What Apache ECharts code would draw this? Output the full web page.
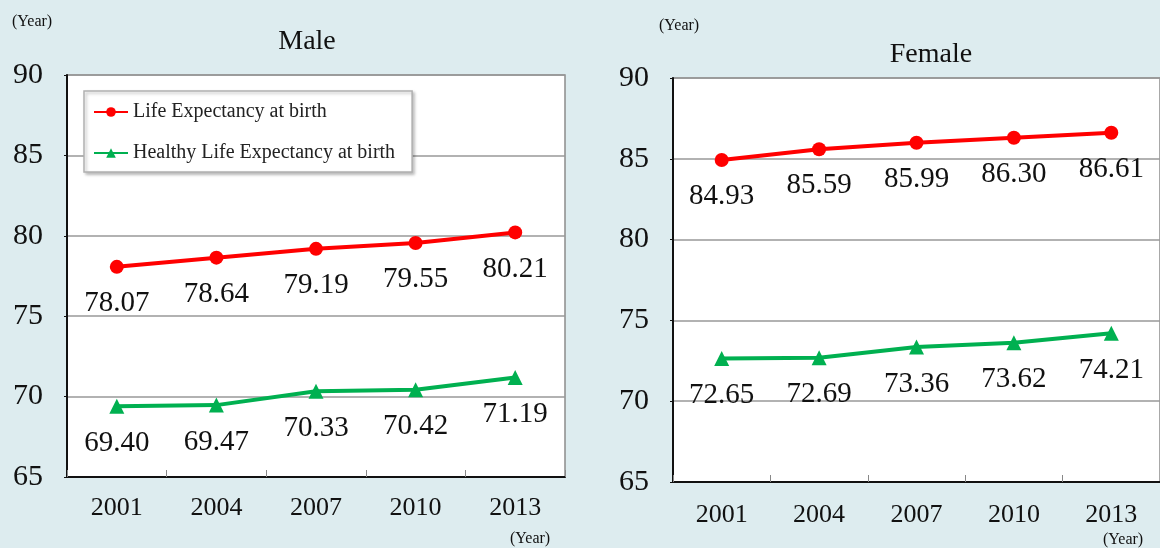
<!DOCTYPE html>
<html>
<head>
<meta charset="utf-8">
<script src="https://cdn.jsdelivr.net/npm/echarts@6/dist/echarts.min.js"></script>
<style>
html,body{margin:0;padding:0;background:#DDECEF;}
#chart{width:1160px;height:548px;}
</style>
</head>
<body>
<div id="chart"></div>
<script>
var years = ['2001', '2004', '2007', '2010', '2013'];
var seriesNames = ['Life Expectancy at birth', 'Healthy Life Expectancy at birth'];
var maleLife = [78.07, 78.64, 79.19, 79.55, 80.21];
var maleHealthy = [69.40, 69.47, 70.33, 70.42, 71.19];
var femaleLife = [84.93, 85.59, 85.99, 86.30, 86.61];
var femaleHealthy = [72.65, 72.69, 73.36, 73.62, 74.21];
var panelTitles = ['Male', 'Female'];
var unitLabel = '(Year)';

var FONT = '"Liberation Serif", "Times New Roman", serif';
var RED = '#FF0000', GREEN = '#00B050';

function yAxis(idx) {
  return {
    type: 'value', gridIndex: idx, min: 65, max: 90, interval: 5,
    axisLine: { show: true, lineStyle: { color: '#111', width: 2 } },
    axisTick: { show: true, inside: false, length: 3, lineStyle: { color: '#111' } },
    axisLabel: { color: '#111', fontFamily: FONT, fontSize: 30, margin: 24 },
    splitLine: { show: true, lineStyle: { color: '#999', width: 1.5 } }
  };
}
function xAxis(idx, margin) {
  return {
    type: 'category', gridIndex: idx, data: years, boundaryGap: true,
    axisLine: { show: true, lineStyle: { color: '#111', width: 2 } },
    axisTick: { show: true, inside: true, length: 7, alignWithLabel: false, lineStyle: { color: '#888' } },
    axisLabel: { color: '#111', fontFamily: FONT, fontSize: 26, margin: margin },
    splitLine: { show: false }
  };
}
function lineSeries(name, data, idx, color, symbol, size) {
  return {
    name: name, type: 'line', xAxisIndex: idx, yAxisIndex: idx, data: data,
    symbol: symbol, symbolSize: size, showSymbol: true,
    lineStyle: { color: color, width: 4 },
    itemStyle: { color: color },
    label: {
      show: true, position: 'bottom', distance: 15,
      color: '#111', fontFamily: FONT, fontSize: 29,
      formatter: function (p) { return Number(p.value).toFixed(2); }
    },
    animation: false
  };
}
function txt(t, x, y, size, align) {
  return {
    type: 'text', x: x, y: y, silent: true,
    style: { text: t, fontFamily: FONT, fontSize: size, fill: '#111',
      textAlign: align || 'center', textVerticalAlign: 'middle' }
  };
}

var chart = echarts.init(document.getElementById('chart'), null, { renderer: 'canvas' });
chart.setOption({
  backgroundColor: '#DDECEF',
  animation: false,
  grid: [
    { left: 67, top: 75, width: 498, height: 402, show: true, backgroundColor: '#fff', borderColor: '#8c8c8c', borderWidth: 1.5 },
    { left: 673, top: 78, width: 495, height: 404, show: true, backgroundColor: '#fff', borderColor: '#8c8c8c', borderWidth: 1.5 }
  ],
  xAxis: [xAxis(0, 18), xAxis(1, 20)],
  yAxis: [yAxis(0), yAxis(1)],
  legend: {
    data: seriesNames,
    orient: 'vertical',
    left: 84, top: 91,
    padding: [11, 17, 9, 9],
    itemWidth: 34, itemHeight: 12, itemGap: 21,
    backgroundColor: '#fff',
    borderColor: '#b0b0b0', borderWidth: 1.5,
    shadowColor: 'rgba(0,0,0,0.25)', shadowBlur: 3, shadowOffsetX: 2, shadowOffsetY: 2,
    textStyle: { color: '#222', fontFamily: FONT, fontSize: 20 },
    selectedMode: false
  },
  series: [
    lineSeries(seriesNames[0], maleLife, 0, RED, 'circle', 14),
    lineSeries(seriesNames[1], maleHealthy, 0, GREEN, 'triangle', 15),
    lineSeries(seriesNames[0], femaleLife, 1, RED, 'circle', 14),
    lineSeries(seriesNames[1], femaleHealthy, 1, GREEN, 'triangle', 15)
  ],
  graphic: [
    txt(panelTitles[0], 307, 42, 28),
    txt(panelTitles[1], 931, 55, 28),
    txt(unitLabel, 12, 22, 16, 'left'),
    txt(unitLabel, 659, 26, 16, 'left'),
    txt(unitLabel, 510, 539, 16, 'left'),
    txt(unitLabel, 1103, 540, 16, 'left')
  ]
});
</script>
</body>
</html>
